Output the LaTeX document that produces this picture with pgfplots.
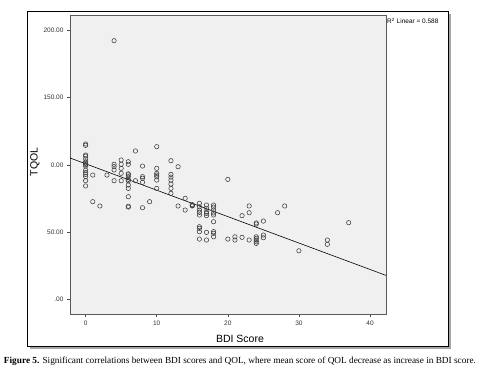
\documentclass[border=0pt]{standalone}
\usepackage{graphicx}
\usepackage{pgfplots}
\pgfplotsset{compat=1.18}
\usepackage{fontspec}
\setmainfont{Liberation Serif}
\newfontfamily\arial{Liberation Sans}
\definecolor{plotbg}{RGB}{240,240,240}
\definecolor{mk}{RGB}{60,60,60}
\begin{document}
\begin{tikzpicture}[x=1pt,y=1pt]
\useasboundingbox (0,0) rectangle (480,373);
\fill[black!35] (30,24) rectangle (451,359);
\fill[white] (27,27) rectangle (448,362);
\draw[black, line width=0.9pt] (27,27) rectangle (448,362);
\begin{axis}[
  at={(70pt,59pt)}, anchor=south west,
  scale only axis, width=316pt, height=299pt,
  xmin=-2.2, xmax=42.25, ymin=-10.9, ymax=211.4,
  axis background/.style={fill=plotbg},
  axis line style={black!65, line width=0.8pt},
  xtick={0,10,20,30,40}, ytick={0,50,100,150,200},
  yticklabels={.00,50.00,0.00,150.00,200.00},
  tick align=outside, xtick pos=bottom, ytick pos=left,
  major tick length=3pt,
  tick style={black!70, line width=0.5pt},
  /pgf/number format/assume math mode=true,
  ticklabel style={font=\arial\fontsize{6.5}{7}\selectfont, text=black!80},
  xlabel={BDI Score}, ylabel={TQOL},
  label style={font=\arial\fontsize{10.5}{12}\selectfont},
  xlabel style={at={(axis description cs:0.538,-0.084)}, anchor=center},
  ylabel style={at={(axis description cs:-0.111,0.508)}, anchor=center},
  clip=false,
]
\addplot[only marks, mark=o, mark size=2.2pt, mark options={draw=mk, line width=0.55pt}] coordinates {
(0,115.5)(0,114.5)(0,107.3)(0,106.5)(0,104.5)(0,102.3)(0,101.1)(0,100.2)(0,99.1)(0,96.1)(0,94.3)(0,92.9)(0,91.2)(0,88.2)(0,84.3)
(1,92.4)(1,72.6)
(2,69.4)
(3,92.4)
(4,192.3)(4,100.4)(4,98.7)(4,96.2)(4,88.2)
(5,103.6)(5,100.4)(5,97.4)(5,93.7)(5,88.2)
(6,102.3)(6,100.4)(6,93.3)(6,92.6)(6,91.2)(6,89.2)(6,88.2)(6,85.0)(6,82.5)(6,76.3)(6,69.2)(6,68.6)
(7,110.3)(7,88.2)
(8,99.1)(8,91.2)(8,90.0)(8,87.0)(8,68.1)
(9,72.6)
(10,113.5)(10,97.4)(10,93.7)(10,92.4)(10,91.2)(10,88.7)(10,82.5)
(12,103.1)(12,92.9)(12,90.9)(12,88.7)(12,85.7)(12,82.5)(12,78.8)
(13,98.6)(13,69.4)
(14,75.1)(14,66.4)
(15,70.4)(15,69.8)(15,69.4)
(16,71.4)(16,68.8)(16,66.4)(16,64.7)(16,62.7)(16,54.0)(16,52.8)(16,50.3)(16,44.8)
(17,70.1)(17,67.7)(17,65.1)(17,63.9)(17,62.2)(17,49.8)(17,44.1)
(18,70.1)(18,68.6)(18,66.4)(18,64.2)(18,62.7)(18,57.7)(18,50.3)(18,49.1)(18,46.5)
(20,89.2)(20,44.8)
(21,46.5)(21,44.1)
(22,62.2)(22,46.1)
(23,69.4)(23,64.4)(23,44.1)
(24,56.8)(24,56.0)(24,46.5)(24,45.4)(24,44.1)(24,42.8)(24,41.6)
(25,58.2)(25,47.8)(25,45.8)
(27,64.4)
(28,69.4)
(30,36.1)
(34,44.1)(34,40.9)
(37,57.0)
};
\addplot[black, line width=0.6pt] coordinates {(-2.2,105.1) (42.25,17.8)};
\node[anchor=west, font=\arial\fontsize{6.5}{7}\selectfont, inner sep=1pt] at (rel axis cs:1,0.98) {R\textsuperscript{2} Linear = 0.588};
\end{axis}
\node[inner sep=0pt] at (240,12) {\resizebox{472pt}{!}{\fontsize{10}{12}\selectfont\textbf{Figure 5.} Significant correlations between BDI scores and QOL, where mean score of QOL decrease as increase in BDI score.}};
\end{tikzpicture}
\end{document}
